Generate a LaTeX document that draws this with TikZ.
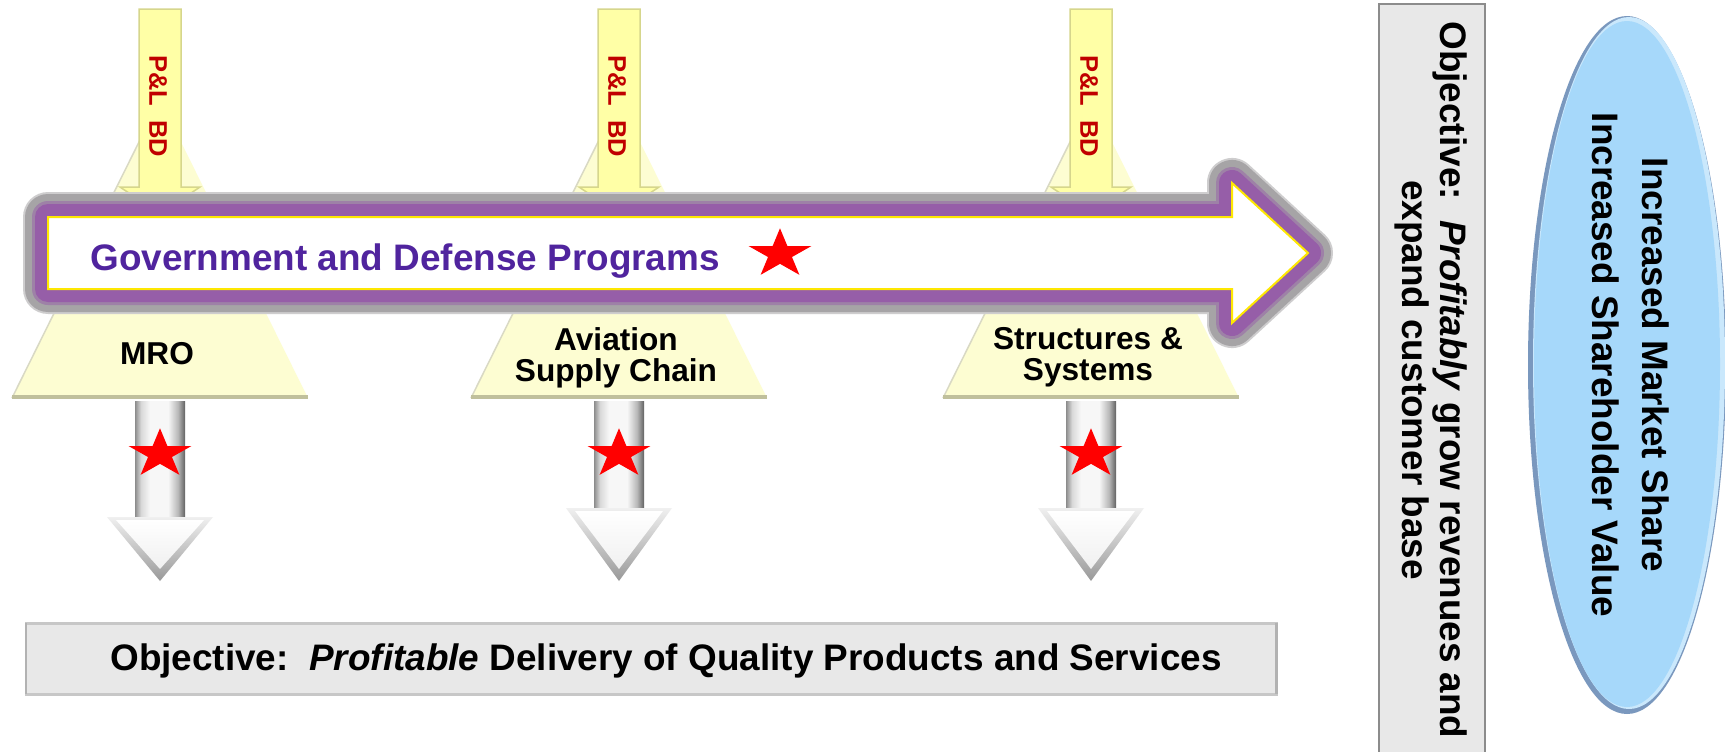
\documentclass[tikz,border=0pt]{standalone}
\usepackage{fontspec}
\setmainfont{Liberation Sans}
\usetikzlibrary{shapes.geometric}

\definecolor{plum}{RGB}{150,94,168}
\definecolor{haze}{RGB}{166,164,166}
\definecolor{indigo}{RGB}{80,36,158}
\definecolor{pale}{RGB}{253,253,210}
\definecolor{paleedge}{RGB}{192,192,156}
\definecolor{lemon}{RGB}{255,255,166}
\definecolor{lemonedge}{RGB}{214,214,140}
\definecolor{plred}{RGB}{192,0,0}
\definecolor{panel}{RGB}{232,232,232}
\definecolor{sky}{RGB}{166,216,250}
\definecolor{skyedge}{RGB}{122,152,190}

% grey tube, dark rims and a light core
\pgfdeclarehorizontalshading{tube}{100bp}{color(0bp)=(black!45); color(25bp)=(black!45);
  color(31bp)=(black!15); color(40bp)=(black!3); color(58bp)=(black!3);
  color(68bp)=(black!28); color(75bp)=(black!62); color(100bp)=(black!62)}

\begin{document}
\begin{tikzpicture}[x=0.02cm,y=-0.02cm,
    seglabel/.style={font=\fontsize{18}{17.6}\selectfont\bfseries, align=center, inner sep=0pt},
    plabel/.style={font=\fontsize{14.5}{15}\selectfont\bfseries, text=plred, rotate=-90, inner sep=0pt},
    redstar/.style={star, star points=5, star point ratio=2.62, fill=red, inner sep=0pt,
      minimum size=1.32cm, yscale=0.78}]
    \fill[white] (0,0) rectangle (1725,751);
    \useasboundingbox (0,0) rectangle (1725,751);

    % three business segments
    \foreach \cx/\hd [count=\i] in {160/517,619/508,1091/508}{
        \fill[pale] (\cx-20,140) -- (\cx+20,140) -- (\cx+148,398) -- (\cx-148,398) -- cycle;
        \draw[paleedge!60, line width=0.03cm] (\cx-20,140) -- (\cx-148,398);
        \draw[paleedge, line width=0.08cm] (\cx-148,397) -- (\cx+148,397);
        % P&L feed from the top
        \draw[lemonedge, fill=lemon, line width=0.03cm] (\cx-21,9) -- (\cx+21,9) -- (\cx+21,187)
            -- (\cx+40,187) -- (\cx,214) -- (\cx-40,187) -- (\cx-21,187) -- cycle;
        \node[plabel] (pl\i) at (\cx-2,106) {P\&L\ \ BD};
        % output arrow
        \shade[shading=tube] (\cx-25,401) rectangle (\cx+25,\hd+6);
        \shade[top color=black!6, bottom color=black!40] (\cx-53,\hd) -- (\cx+53,\hd) -- (\cx,581) -- cycle;
        \shade[top color=white, bottom color=black!6] (\cx-44,\hd+3) -- (\cx+44,\hd+3) -- (\cx,569) -- cycle;
        \node[redstar] (st\i) at (\cx,454) {};
    }

    \node[seglabel] (mro) at (157,354) {MRO};
    \node[seglabel] (asc) at (616,358) {Aviation\\Supply Chain};
    \node[seglabel] (sns) at (1088,357) {Structures \&\\Systems};

    % programs arrow across the segments
    \coordinate (p1) at (48,217);
    \coordinate (p2) at (1232,217);
    \coordinate (p3) at (1232,183);
    \coordinate (p4) at (1308,253);
    \coordinate (p5) at (1232,323);
    \coordinate (p6) at (1232,289);
    \coordinate (p7) at (48,289);
    \draw[haze!55, line width=1.0cm, line join=round] (p1)--(p2)--(p3)--(p4)--(p5)--(p6)--(p7)--cycle;
    \draw[haze, line width=0.92cm, line join=round] (p1)--(p2)--(p3)--(p4)--(p5)--(p6)--(p7)--cycle;
    \draw[haze!50!plum, line width=0.64cm, line join=round] (p1)--(p2)--(p3)--(p4)--(p5)--(p6)--(p7)--cycle;
    \draw[plum, line width=0.52cm, line join=round] (p1)--(p2)--(p3)--(p4)--(p5)--(p6)--(p7)--cycle;
    \fill[white] (p1)--(p2)--(p3)--(p4)--(p5)--(p6)--(p7)--cycle;
    \draw[yellow!90!orange, line width=0.04cm] (p1)--(p2)--(p3)--(p4)--(p5)--(p6)--(p7)--cycle;
    \node[anchor=base west, inner sep=0pt, text=indigo, font=\fontsize{21}{22}\selectfont\bfseries]
        (gdp) at (90,270) {Government and Defense Programs};
    \node[redstar] (st0) at (780,254) {};

    % delivery objective
    \draw[black!22, fill=panel, line width=0.06cm] (26,623) rectangle (1276,694);
    \draw[black!30, line width=0.06cm] (26,623) -- (26,694) (1276,623) -- (1276,694);
    \node[anchor=base west, inner sep=0pt, font=\fontsize{21}{22}\selectfont\bfseries]
        (deliver) at (110,670) {Objective:\ \ \textit{Profitable} Delivery of Quality Products and Services};

    % growth objective
    \draw[black!45, fill=panel, line width=0.04cm] (1379,4) rectangle (1485,760);
    \node[rotate=-90, align=center, inner sep=0pt, font=\fontsize{21}{21.5}\selectfont\bfseries]
        (grow) at (1431,380) {Objective:\ \ \textit{Profitably} grow revenues and\\expand customer base};

    % shareholder value
    \fill[skyedge] (1627,365) ellipse [x radius=99, y radius=349];
    \fill[sky!60!white] (1629,363) ellipse [x radius=96, y radius=346];
    \fill[sky] (1627,364) ellipse [x radius=93, y radius=343];
    \node[rotate=-90, align=center, inner sep=0pt, font=\fontsize{21}{28.3}\selectfont\bfseries]
        (value) at (1631,365) {Increased Market Share\\Increased Shareholder Value};
\end{tikzpicture}
\end{document}
